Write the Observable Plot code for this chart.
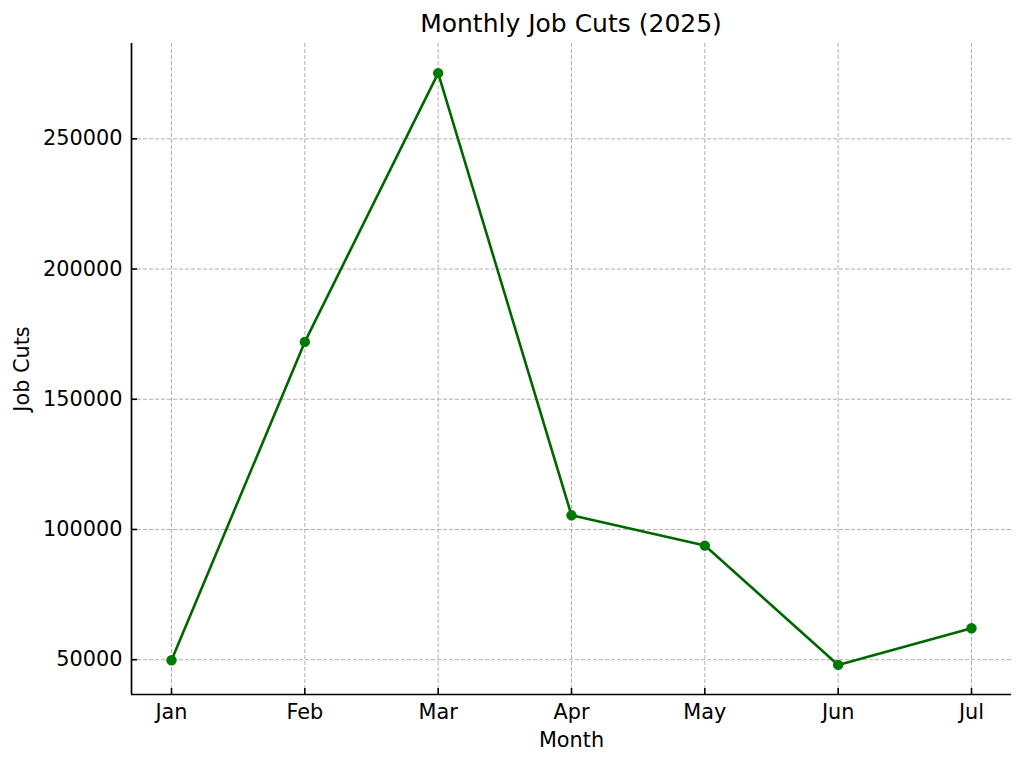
<!DOCTYPE html>
<html>
<head>
<meta charset="utf-8">
<script src="https://cdn.jsdelivr.net/npm/d3@7"></script>
<script src="https://cdn.jsdelivr.net/npm/@observablehq/plot@0.6"></script>
<style>
  html, body { margin: 0; padding: 0; background: #fff; }
  #title {
    width: 1024px; height: 43px; box-sizing: border-box;
    padding: 4px 13px 0 131px; line-height: 39px;
    text-align: center; font-family: "DejaVu Sans", sans-serif;
    font-size: 25px; color: #000; white-space: nowrap;
  }
  #chart svg { display: block; }
</style>
</head>
<body>
<div id="title">Monthly Job Cuts (2025)</div>
<div id="chart"></div>
<script>
const months = ["Jan", "Feb", "Mar", "Apr", "May", "Jun", "Jul"];
const jobCuts = [49795, 172017, 275240, 105441, 93816, 47999, 62075];
const yTicks = [50000, 100000, 150000, 200000, 250000];
const xLabel = "Month";
const yLabel = "Job Cuts";

const W = 1024, H = 721;
const mL = 131, mR = 13, mT = 0, mB = 70;
const innerW = W - mL - mR, innerH = H - mT - mB;

const idx = months.map((_, i) => i);
const xDomain = [-0.3, months.length - 1 + 0.3];
const yMin = d3.min(jobCuts), yMax = d3.max(jobCuts);
const yPad = (yMax - yMin) * 0.05;
const yDomain = [yMin - yPad, yMax + yPad];

const font = "DejaVu Sans";
const fs = 20.8;
const gridStyle = {stroke: "#b0b0b0", strokeOpacity: 1, strokeWidth: 1, strokeDasharray: "4,2"};

const chart = Plot.plot({
  width: W, height: H,
  marginLeft: mL, marginRight: mR, marginTop: mT, marginBottom: mB,
  style: {fontFamily: font, background: "#fff", color: "#000"},
  x: {type: "linear", domain: xDomain, axis: null},
  y: {type: "linear", domain: yDomain, axis: null},
  marks: [
    Plot.gridY(yTicks, gridStyle),
    Plot.gridX(idx, gridStyle),
    // inward ticks
    Plot.ruleX(idx, {x: d => d, insetTop: innerH - 6, stroke: "#000", strokeWidth: 1.6}),
    Plot.ruleY(yTicks, {y: d => d, insetRight: innerW - 6, stroke: "#000", strokeWidth: 1.6}),
    // spines
    Plot.ruleY([yDomain[0]], {stroke: "#000", strokeWidth: 1.7}),
    Plot.ruleX([xDomain[0]], {stroke: "#000", strokeWidth: 1.7}),
    // tick labels
    Plot.text(yTicks, {y: d => d, frameAnchor: "left", textAnchor: "end", dx: -9, text: d => String(d), fontSize: fs, fill: "#000"}),
    Plot.text(idx, {x: d => d, frameAnchor: "bottom", lineAnchor: "top", dy: 10, text: d => months[d], fontSize: fs, fill: "#000"}),
    // axis labels
    Plot.text([xLabel], {frameAnchor: "bottom", lineAnchor: "top", dy: 38, fontSize: fs, fill: "#000"}),
    Plot.text([yLabel], {frameAnchor: "left", textAnchor: "middle", rotate: -90, dx: -109, fontSize: fs, fill: "#000"}),
    // data
    Plot.line(jobCuts, {x: (d, i) => i, y: d => d, stroke: "#006600", strokeWidth: 2.6}),
    Plot.dot(jobCuts, {x: (d, i) => i, y: d => d, r: 5.2, fill: "#007a00", stroke: "none"})
  ]
});
document.getElementById("chart").appendChild(chart);
</script>
</body>
</html>
